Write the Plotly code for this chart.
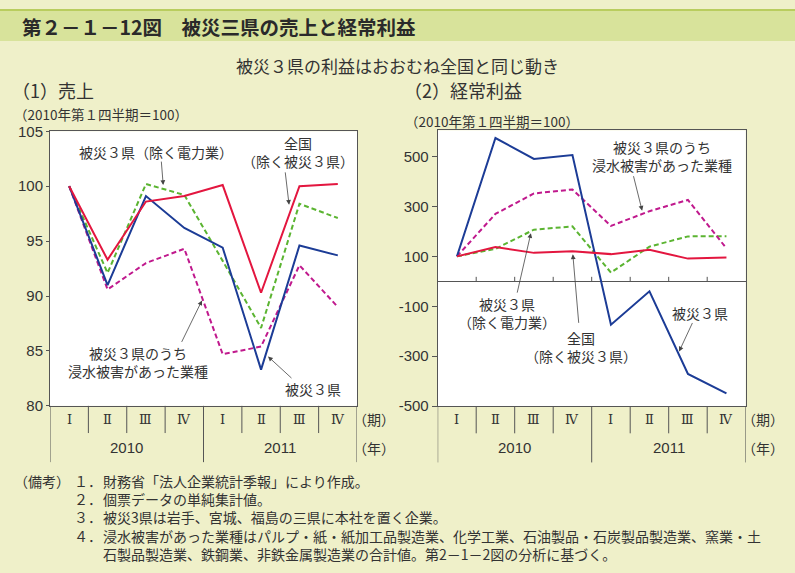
import plotly.graph_objects as go

W, H = 795, 573
def X(px): return px / W
def Y(py): return 1 - py / H

quarters = ["Ⅰ", "Ⅱ", "Ⅲ", "Ⅳ", "Ⅰ", "Ⅱ", "Ⅲ", "Ⅳ"]
years = ["2010", "2011"]
idx = list(range(8))

# (1) 売上
sales_zenkoku = [100, 93.3, 98.6, 99.1, 100.1, 90.3, 100.0, 100.2]
sales_hisai3 = [100, 91.0, 99.1, 96.2, 94.4, 83.3, 94.6, 93.7]
sales_hisai3_ex = [100, 92.1, 100.2, 99.2, 93.2, 87.1, 98.4, 97.1]
sales_shinsui = [100, 90.6, 93.0, 94.3, 84.7, 85.4, 92.8, 89.0]
sales_ticks = [80, 85, 90, 95, 100, 105]

# (2) 経常利益
prof_zenkoku = [100, 137, 114, 120, 109, 126, 91, 95]
prof_hisai3 = [100, 574, 490, 506, -174, -40, -371, -449]
prof_hisai3_ex = [100, 130, 207, 220, 35, 139, 180, 181]
prof_shinsui = [100, 270, 352, 368, 222, 281, 326, 132]
prof_ticks = [-500, -300, -100, 100, 300, 500]
prof_ticktext = ["-500", "-300", "-100", "100", "300", "500"]

RED = "#e3163f"
BLUE = "#1c3c96"
GREEN = "#5bb431"
MAG = "#c0198d"
BG = "#eff0c9"
AX = "#555555"
TXT = "#333333"
JP = "Noto Sans CJK JP"
NUM = "Liberation Sans"

fig = go.Figure()

def add_series(xa, ya, ys, color, dash):
    fig.add_trace(go.Scatter(x=idx, y=ys, mode="lines", xaxis=xa, yaxis=ya,
                             line=dict(color=color, width=2, dash=dash),
                             showlegend=False, hoverinfo="skip"))

DASH = "5px,3px"
add_series("x", "y", sales_hisai3_ex, GREEN, DASH)
add_series("x", "y", sales_shinsui, MAG, DASH)
add_series("x", "y", sales_hisai3, BLUE, "solid")
add_series("x", "y", sales_zenkoku, RED, "solid")

add_series("x2", "y2", prof_hisai3_ex, GREEN, DASH)
add_series("x2", "y2", prof_shinsui, MAG, DASH)
add_series("x2", "y2", prof_hisai3, BLUE, "solid")
add_series("x2", "y2", prof_zenkoku, RED, "solid")

L_dom_x = [X(50), X(357)]
L_dom_y = [Y(409), Y(126)]
R_dom_x = [X(437.7), X(745.7)]
R_dom_y = [Y(409.3), Y(125)]

xcommon = dict(range=[-0.5, 7.5], showticklabels=False, ticks="", showgrid=False,
               zeroline=False, showline=True, mirror=True, linecolor=AX, linewidth=1)
fig.update_layout(
    width=W, height=H, margin=dict(l=0, r=0, t=0, b=0),
    paper_bgcolor=BG, plot_bgcolor="white",
    xaxis=dict(domain=L_dom_x, anchor="y", **xcommon),
    yaxis=dict(domain=L_dom_y, anchor="x", range=[80, 105], tickvals=sales_ticks,
               showgrid=False, zeroline=False, showline=True, mirror=True, linecolor=AX,
               ticks="outside", ticklen=3, tickcolor=AX,
               tickfont=dict(family=NUM, size=15, color=TXT)),
    xaxis2=dict(domain=R_dom_x, anchor="y2", **xcommon),
    yaxis2=dict(domain=R_dom_y, anchor="x2", range=[-500, 605],
                tickvals=prof_ticks, ticktext=prof_ticktext,
                showgrid=False, zeroline=True, zerolinecolor=AX, zerolinewidth=1,
                showline=True, mirror=True, linecolor=AX,
                ticks="outside", ticklen=5, tickcolor=AX,
                tickfont=dict(family=NUM, size=15, color=TXT)),
)

shapes = []
# banner
shapes.append(dict(type="rect", xref="paper", yref="paper", x0=0, x1=1, y0=Y(33), y1=1,
                   fillcolor="#d8e39b", line=dict(width=0), layer="below"))
shapes.append(dict(type="rect", xref="paper", yref="paper", x0=0, x1=1, y0=Y(2), y1=1,
                   fillcolor="#b9cd5e", line=dict(width=0), layer="below"))

annotations = []

def cat_area(xref, bot, unit_x, year_sep_len=58, q_len=28, quarter_y=423, year_y=452):
    for k in range(9):
        xv = k - 0.5
        full = k in (0, 4, 8)
        shapes.append(dict(type="line", xref=xref, yref="paper", x0=xv, x1=xv,
                           y0=Y(bot), y1=Y(bot + (year_sep_len if full else q_len)),
                           line=dict(color=AX, width=1)))
    for i, q in enumerate(quarters):
        annotations.append(dict(xref=xref, yref="paper", x=i, y=Y(quarter_y), text=q,
                                showarrow=False, font=dict(family="DejaVu Serif", size=13, color=TXT),
                                xanchor="center", yanchor="middle"))
    for j, yr in enumerate(years):
        annotations.append(dict(xref=xref, yref="paper", x=1.5 + 4 * j, y=Y(year_y), text=yr,
                                showarrow=False, font=dict(family=NUM, size=15, color=TXT),
                                xanchor="center", yanchor="middle"))
    for py, s in ((quarter_y, "（期）"), (year_y, "（年）")):
        annotations.append(dict(xref="paper", yref="paper", x=X(unit_x), y=Y(py), text=s,
                                showarrow=False, font=dict(family=JP, size=14, color=TXT),
                                xanchor="center", yanchor="middle"))

cat_area("x", 409, unit_x=374)
cat_area("x2", 409.3, unit_x=763)

# zero-line ticks on right chart
for k in range(1, 8):
    shapes.append(dict(type="line", xref="x2", yref="y2", x0=k - 0.5, x1=k - 0.5, y0=0, y1=18,
                       line=dict(color=AX, width=1)))

def txt(px, py, s, size=14, anchor="center", family=JP, color=TXT, align="center"):
    annotations.append(dict(xref="paper", yref="paper", x=X(px), y=Y(py), text=s, showarrow=False,
                            font=dict(family=family, size=size, color=color), align=align,
                            xanchor=anchor, yanchor="middle"))

# titles
txt(20, 18, "<b>第２－１－12図　被災三県の売上と経常利益</b>", size=19.5, anchor="left", color="#2a2a2a")
txt(397, 58, "被災３県の利益はおおむね全国と同じ動き", size=17)
txt(10, 83, "（1）売上", size=18, anchor="left")
txt(402, 83, "（2）経常利益", size=18, anchor="left")
txt(12, 108, "（2010年第１四半期＝100）", size=13.5, anchor="left")
txt(403, 115, "（2010年第１四半期＝100）", size=13.5, anchor="left")

# left annotations
txt(156, 147, "被災３県（除く電力業）")
txt(298, 147.5, "全国<br>（除く被災３県）")
txt(138, 364, "被災３県のうち<br>浸水被害があった業種")
txt(313, 392, "被災３県")

# right annotations
txt(662, 152, "被災３県のうち<br>浸水被害があった業種")
txt(507, 313.5, "被災３県<br>（除く電力業）")
txt(581, 348, "全国<br>（除く被災３県）")
txt(700, 313, "被災３県")

def arrow(xref, yref, x, y, ax, ay):
    annotations.append(dict(xref=xref, yref=yref, x=x, y=y, ax=ax, ay=ay, text="",
                            showarrow=True, arrowhead=2, arrowsize=1.2, arrowwidth=0.8,
                            arrowcolor="#444444", standoff=0))

arrow("x", "y", 2.45, 100.1, -2, -25)
arrow("x", "y", 5.73, 98.3, -4, -34)
arrow("x", "y", 3.46, 89.6, -21, 43)
arrow("x", "y", 5.18, 84.5, 25, 23)

arrow("x2", "y2", 4.81, 283, -9, -36)
arrow("x2", "y2", 1.92, 193, -14, 61)
arrow("x2", "y2", 3.01, 108, 6, 70)
arrow("x2", "y2", 5.77, -281, 14, -30)

# notes
note_head = "（備考）"
note_nums = ["１．", "２．", "３．", "４．"]
note_texts = [
    "財務省「法人企業統計季報」により作成。",
    "個票データの単純集計値。",
    "被災3県は岩手、宮城、福島の三県に本社を置く企業。",
    "浸水被害があった業種はパルプ・紙・紙加工品製造業、化学工業、石油製品・石炭製品製造業、窯業・土",
    "石製品製造業、鉄鋼業、非鉄金属製造業の合計値。第2－1－2図の分析に基づく。",
]
NS = 14
annotations.append(dict(xref="paper", yref="paper", x=X(12), y=Y(474), text=note_head,
                        showarrow=False, font=dict(family=JP, size=NS, color=TXT),
                        xanchor="left", yanchor="top"))
annotations.append(dict(xref="paper", yref="paper", x=X(72), y=Y(474), text="<br>".join(note_nums),
                        showarrow=False, font=dict(family=JP, size=NS, color=TXT), align="left",
                        xanchor="left", yanchor="top"))
annotations.append(dict(xref="paper", yref="paper", x=X(101), y=Y(474), text="<br>".join(note_texts),
                        showarrow=False, font=dict(family=JP, size=NS, color=TXT), align="left",
                        xanchor="left", yanchor="top"))

fig.update_layout(shapes=shapes, annotations=annotations)
fig.write_html("out.html")
